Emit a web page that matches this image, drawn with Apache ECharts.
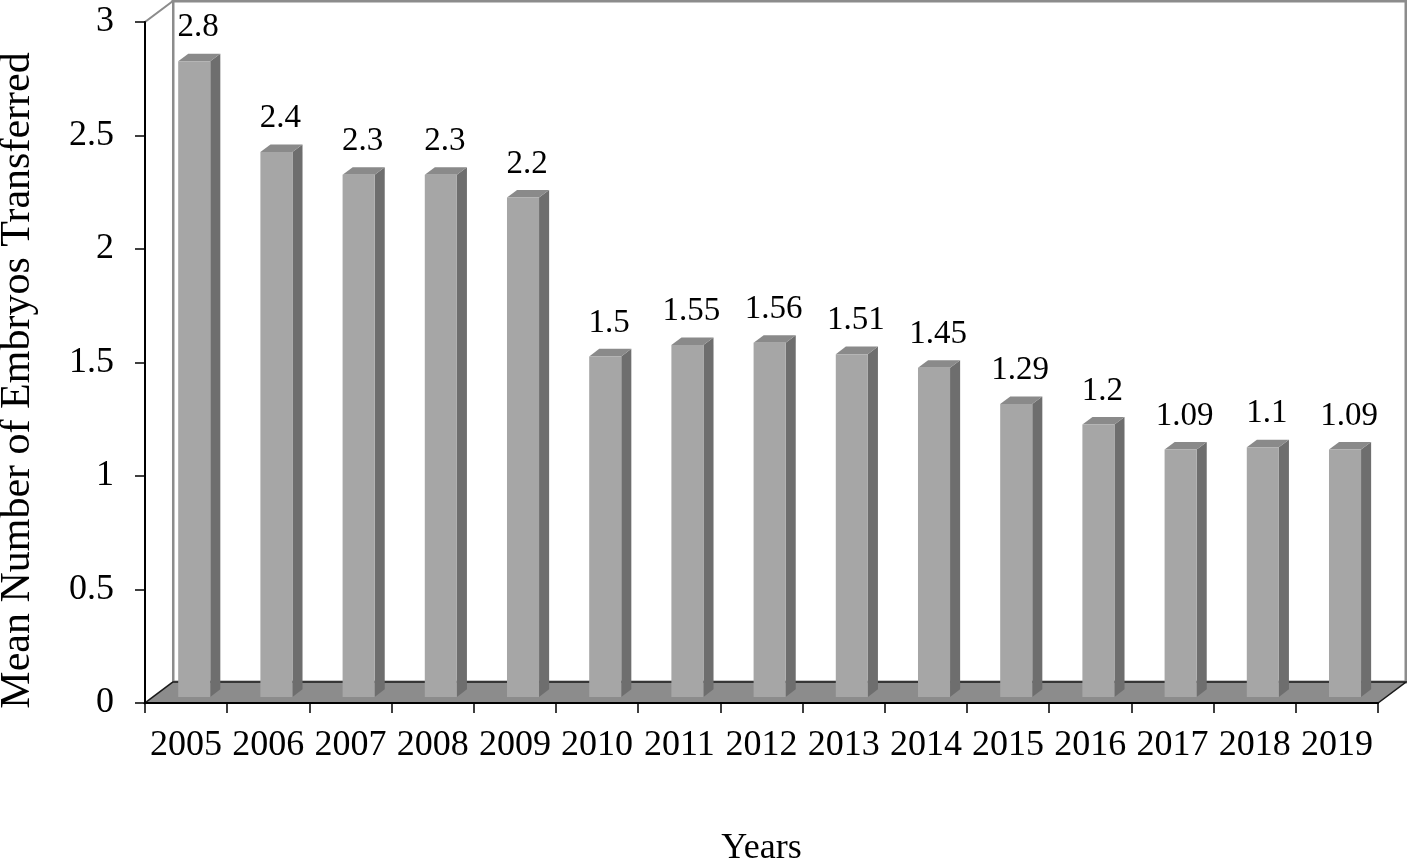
<!DOCTYPE html>
<html>
<head>
<meta charset="utf-8">
<script src="https://cdn.jsdelivr.net/npm/echarts@6/dist/echarts.min.js"></script>
<style>
html,body{margin:0;padding:0;background:#fff;}
#chart{width:1407px;height:861px;}
</style>
</head>
<body>
<div id="chart"></div>
<script>
const years = ['2005','2006','2007','2008','2009','2010','2011','2012','2013','2014','2015','2016','2017','2018','2019'];
const meanEmbryos = [2.8, 2.4, 2.3, 2.3, 2.2, 1.5, 1.55, 1.56, 1.51, 1.45, 1.29, 1.2, 1.09, 1.1, 1.09];
const labelTexts = ['2.8','2.4','2.3','2.3','2.2','1.5','1.55','1.56','1.51','1.45','1.29','1.2','1.09','1.1','1.09'];

const FONT = "'Liberation Serif', 'Times New Roman', serif";
const DX = 28, DY = -21;      // 3D depth offset of walls
const F0 = 0.29, F1 = 0.65;   // bar depth position (fraction of wall depth)
const BAR_W = 0.39;           // bar width as fraction of category band

const chart = echarts.init(document.getElementById('chart'));

function renderWalls(params, api) {
  const cs = params.coordSys;
  const x = cs.x, y = cs.y, w = cs.width, h = cs.height;
  return {
    type: 'group',
    children: [
      { type: 'polygon', shape: { points: [[x + DX, y + DY], [x + w + DX, y + DY], [x + w + DX, y + h + DY], [x + DX, y + h + DY]] },
        style: { fill: '#fff', stroke: '#8c8c8c', lineWidth: 3 } },
      { type: 'polygon', shape: { points: [[x, y + h], [x, y], [x + DX, y + DY], [x + DX, y + h + DY]] },
        style: { fill: '#fff', stroke: '#8c8c8c', lineWidth: 2 } },
      { type: 'polygon', shape: { points: [[x, y + h], [x + w, y + h], [x + w + DX, y + h + DY], [x + DX, y + h + DY]] },
        style: { fill: '#8c8c8c', stroke: '#1a1a1a', lineWidth: 1.5 } }
    ]
  };
}

function renderBar(params, api) {
  const idx = api.value(0), v = api.value(1);
  const base = api.coord([idx, 0]);
  const top = api.coord([idx, v]);
  const band = api.size([1, 0])[0];
  const w = band * BAR_W;
  const x0 = base[0] - w / 2 + F0 * DX, x1 = x0 + w;
  const yb = base[1] + F0 * DY, yt = top[1] + F0 * DY;
  const ddx = (F1 - F0) * DX, ddy = (F1 - F0) * DY;
  return {
    type: 'group',
    children: [
      { type: 'polygon', shape: { points: [[x1, yb], [x1 + ddx, yb + ddy], [x1 + ddx, yt + ddy], [x1, yt]] },
        style: { fill: '#6e6e6e' } },
      { type: 'polygon', shape: { points: [[x0, yt], [x1, yt], [x1 + ddx, yt + ddy], [x0 + ddx, yt + ddy]] },
        style: { fill: '#8a8a8a' } },
      { type: 'rect', shape: { x: x0, y: yt, width: w, height: yb - yt },
        style: { fill: '#a6a6a6' } },
      { type: 'text', x: (x0 + x1) / 2 + 4, y: yt + ddy - 26,
        style: { text: labelTexts[params.dataIndex], fill: '#000', font: '33px ' + FONT, align: 'center', verticalAlign: 'middle' } }
    ]
  };
}

chart.setOption({
  backgroundColor: '#fff',
  animation: false,
  grid: { left: 145, right: 29, top: 22, bottom: 158, containLabel: false, outerBoundsMode: 'none' },
  xAxis: {
    type: 'category',
    data: years,
    z: 5,
    boundaryGap: true,
    axisLine: { show: true, lineStyle: { color: '#000', width: 2 } },
    axisTick: { show: true, length: 10, lineStyle: { color: '#000', width: 1.5 } },
    axisLabel: { color: '#000', fontFamily: FONT, fontSize: 36, margin: 25, interval: 0 },
    name: 'Years',
    nameLocation: 'middle',
    nameGap: 146,
    nameTextStyle: { color: '#000', fontFamily: FONT, fontSize: 36, verticalAlign: 'middle' }
  },
  yAxis: {
    type: 'value',
    min: 0, max: 3, interval: 0.5,
    z: 5,
    axisLine: { show: true, lineStyle: { color: '#000', width: 2 } },
    axisTick: { show: true, length: 10, lineStyle: { color: '#000', width: 1.5 } },
    splitLine: { show: false },
    axisLabel: { color: '#000', fontFamily: FONT, fontSize: 36, margin: 31 },
    name: 'Mean Number of Embryos Transferred',
    nameLocation: 'middle',
    nameGap: 127,
    nameTextStyle: { color: '#000', fontFamily: FONT, fontSize: 42, verticalAlign: 'middle', padding: [0, 36, 0, 0] }
  },
  series: [
    { type: 'custom', z: 1, clip: false, silent: true, data: [[0, 0]], renderItem: renderWalls },
    { type: 'custom', z: 2, clip: false, data: meanEmbryos.map((v, i) => [i, v]), renderItem: renderBar }
  ]
});
</script>
</body>
</html>
